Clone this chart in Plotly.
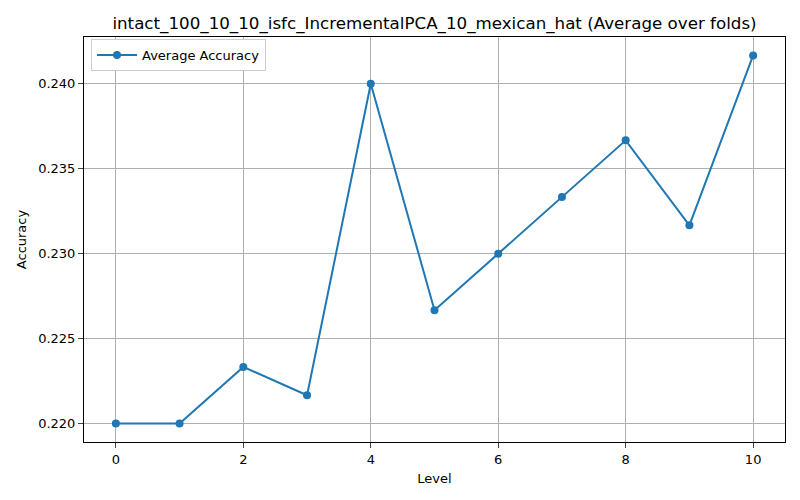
import plotly.graph_objects as go

levels = [0, 1, 2, 3, 4, 5, 6, 7, 8, 9, 10]
avg_accuracy = [0.22, 0.22, 0.223333, 0.221667, 0.24, 0.226667,
                0.23, 0.233333, 0.236667, 0.231667, 0.241667]
x_ticks = [0, 2, 4, 6, 8, 10]
y_ticks = [0.220, 0.225, 0.230, 0.235, 0.240]

title = "intact_100_10_10_isfc_IncrementalPCA_10_mexican_hat (Average over folds)"

fig = go.Figure()
fig.add_trace(go.Scatter(x=levels, y=avg_accuracy, mode="lines+markers",
                         name="Average Accuracy",
                         line=dict(color="#1f77b4", width=2),
                         marker=dict(color="#1f77b4", size=8)))

# page body has an 8px margin, so the margins are shifted to compensate
fig.update_layout(
    width=800, height=500,
    margin={"l": 76, "r": 23, "t": 29, "b": 66, "autoexpand": False},
    paper_bgcolor="white", plot_bgcolor="white",
    font=dict(family="DejaVu Sans", size=13, color="black"),
    title=dict(text=title, xref="paper", x=0.5, xanchor="center",
               yref="container", y=0.97, yanchor="middle",
               font=dict(size=16.7)),
    showlegend=True,
    legend=dict(x=0.01, y=0.995, xanchor="left", yanchor="top",
                bordercolor="#cccccc", borderwidth=1, bgcolor="white",
                font=dict(size=13), tracegroupgap=0, itemwidth=40),
)

span = max(avg_accuracy) - min(avg_accuracy)
fig.update_xaxes(range=[-0.5, 10.5], tickvals=x_ticks, ticks="outside", ticklen=5,
                 automargin=False,
                 showgrid=True, gridcolor="#b0b0b0", gridwidth=1,
                 showline=True, linecolor="black", mirror=True, zeroline=False,
                 title=dict(text="Level", standoff=8, font=dict(size=13)))
fig.update_yaxes(range=[min(avg_accuracy) - 0.05 * span, max(avg_accuracy) + 0.05 * span],
                 tickvals=y_ticks, tickformat=".3f", ticks="outside", ticklen=5,
                 automargin=False,
                 showgrid=True, gridcolor="#b0b0b0", gridwidth=1,
                 showline=True, linecolor="black", mirror=True, zeroline=False,
                 title=dict(text="Accuracy", standoff=8, font=dict(size=13)))

fig.write_html("out.html")
